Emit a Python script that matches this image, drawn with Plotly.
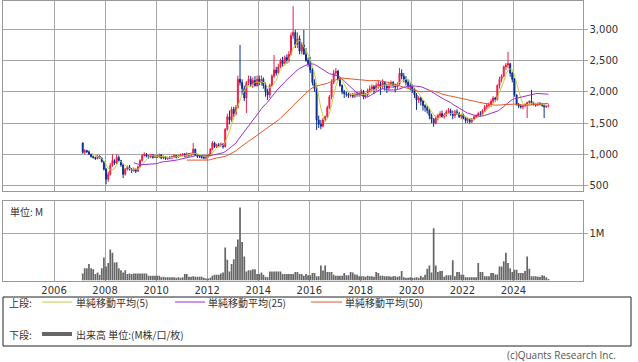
import plotly.graph_objects as go
import pandas as pd

W, H = 638, 362

# ---------------- data (monthly, Feb 2007 - May 2025) ----------------
start_month = "2007-02-01"
n_months = 220

open_ = [
    1180, 1030, 1060, 1040, 1000, 960, 950, 930, 970, 940, 880,               # 2007 Feb-Dec
    760, 600, 680, 820, 900, 860, 950, 900, 830, 680, 760, 800,               # 2008
    760, 740, 760, 730, 800, 900, 980, 1000, 970, 960, 990, 950,              # 2009
    970, 960, 990, 940, 960, 930, 950, 940, 960, 980, 950, 970,               # 2010
    990, 1000, 970, 1010, 990, 1000, 1080, 990, 970, 960, 950, 940,           # 2011
    960, 980, 1080, 1180, 1120, 1150, 1140, 1160, 1120, 1400, 1600, 1550,     # 2012
    1720, 1650, 1750, 2200, 2150, 2050, 1900, 2150, 2200, 2120, 2180, 2100,   # 2013
    2200, 2150, 2200, 2100, 2000, 1950, 2100, 2250, 2350, 2300, 2400, 2500,   # 2014
    2450, 2550, 2500, 2600, 2900, 2950, 2750, 2850, 2650, 2750, 2600, 2500,   # 2015
    2450, 2350, 2150, 2050, 1550, 1480, 1450, 1550, 1600, 1750, 1920, 2150,   # 2016
    2300, 2330, 2200, 2100, 2000, 1970, 1960, 1940, 1950, 1930, 1960, 1950,   # 2017
    1970, 2000, 1920, 1950, 2020, 2050, 2080, 2040, 2100, 2120, 2080, 2150,   # 2018
    2100, 2060, 2110, 2150, 2100, 2080, 2120, 2300, 2250, 2200, 2150, 2100,   # 2019
    2080, 2020, 1950, 1870, 1900, 1850, 1780, 1750, 1700, 1620, 1560, 1500,   # 2020
    1580, 1620, 1650, 1600, 1630, 1680, 1700, 1650, 1620, 1680, 1650, 1600,   # 2021
    1630, 1580, 1540, 1560, 1520, 1560, 1600, 1620, 1650, 1640, 1700, 1760,   # 2022
    1780, 1800, 1850, 1900, 1880, 2100, 2200, 2250, 2400, 2430, 2450, 2300,   # 2023
    2200, 1950, 1800, 1770, 1760, 1780, 1800, 1830, 1850, 1820, 1800, 1790,   # 2024
    1820, 1800, 1780, 1760, 1770,                                             # 2025
]
high = [
    1190, 1080, 1070, 1060, 1010, 980, 960, 990, 980, 950, 890,
    780, 720, 860, 1000, 920, 1000, 980, 910, 850, 780, 820, 830,
    780, 790, 770, 820, 920, 1000, 1030, 1020, 990, 1010, 1000, 990,
    990, 1010, 1000, 980, 970, 960, 970, 980, 1000, 990, 990, 1010,
    1020, 1020, 1030, 1020, 1030, 1180, 1090, 1000, 990, 980, 970, 980,
    1000, 1100, 1210, 1200, 1170, 1180, 1190, 1180, 1420, 1650, 1700, 1760,
    1760, 1790, 2260, 2750, 2200, 2100, 2170, 2260, 2250, 2230, 2250, 2260,
    2260, 2260, 2230, 2150, 2050, 2130, 2280, 2590, 2400, 2450, 2530, 2560,
    2580, 2600, 2650, 2950, 3370, 2990, 2950, 2900, 2800, 2990, 2700, 2550,
    2560, 2380, 2200, 2080, 1620, 1550, 1580, 1620, 1780, 1950, 2200, 2350,
    2380, 2350, 2230, 2120, 2030, 2000, 1990, 1980, 1980, 1990, 2000, 2000,
    2040, 2030, 1980, 2050, 2100, 2120, 2110, 2150, 2190, 2170, 2200, 2170,
    2130, 2140, 2180, 2170, 2130, 2150, 2380, 2360, 2300, 2250, 2200, 2150,
    2120, 2060, 1980, 1930, 1920, 1870, 1800, 1780, 1730, 1650, 1580, 1620,
    1650, 1690, 1700, 1660, 1710, 1740, 1730, 1700, 1710, 1720, 1680, 1650,
    1650, 1600, 1580, 1580, 1580, 1620, 1640, 1680, 1690, 1720, 1790, 1820,
    1830, 1880, 1930, 1920, 2120, 2240, 2280, 2420, 2460, 2640, 2460, 2320,
    2220, 1960, 1820, 1800, 1790, 1810, 1840, 1860, 2030, 1840, 1820, 1830,
    1830, 1820, 1800, 1790, 1800,
]
low = [
    1010, 1000, 1020, 990, 950, 930, 910, 920, 930, 870, 740,
    520, 560, 660, 800, 830, 840, 880, 800, 620, 660, 740, 740,
    700, 720, 700, 720, 790, 880, 960, 950, 930, 940, 930, 940,
    940, 940, 920, 920, 910, 910, 920, 920, 940, 930, 940, 960,
    970, 950, 960, 960, 970, 990, 970, 940, 940, 930, 920, 920,
    940, 970, 1060, 1100, 1100, 1110, 1120, 1090, 1110, 1380, 1480, 1520,
    1600, 1620, 1730, 2100, 1950, 1850, 1660, 2100, 2080, 2060, 2080, 2080,
    2100, 2100, 2050, 1920, 1870, 1900, 2080, 2220, 2260, 2280, 2380, 2400,
    2420, 2450, 2470, 2580, 2850, 2700, 2700, 2600, 2600, 2600, 2480, 2400,
    2300, 2100, 2000, 1390, 1420, 1400, 1430, 1520, 1580, 1720, 1880, 2120,
    2250, 2180, 2080, 1960, 1900, 1920, 1900, 1910, 1900, 1900, 1920, 1920,
    1940, 1880, 1890, 1920, 1980, 2000, 1960, 2000, 2050, 1950, 2040, 2020,
    1980, 2020, 2060, 2060, 1990, 2040, 2100, 2200, 2150, 2100, 2050, 2020,
    1980, 1900, 1710, 1820, 1780, 1700, 1680, 1650, 1560, 1500, 1440, 1480,
    1540, 1590, 1580, 1570, 1600, 1650, 1620, 1560, 1580, 1630, 1580, 1560,
    1560, 1500, 1500, 1490, 1500, 1540, 1580, 1600, 1600, 1620, 1680, 1720,
    1750, 1760, 1820, 1840, 1860, 2050, 2150, 2230, 2350, 2380, 2240, 2150,
    1920, 1780, 1740, 1730, 1720, 1750, 1580, 1800, 1790, 1780, 1760, 1770,
    1780, 1760, 1580, 1740, 1750,
]
close = [
    1030, 1060, 1040, 1000, 960, 950, 930, 970, 940, 880, 760,
    600, 680, 820, 900, 860, 950, 900, 830, 680, 760, 800, 760,
    740, 760, 730, 800, 900, 980, 1000, 970, 960, 990, 950, 970,
    960, 990, 940, 960, 930, 950, 940, 960, 980, 950, 970, 990,
    1000, 970, 1010, 990, 1000, 1080, 990, 970, 960, 950, 940, 960,
    980, 1080, 1180, 1120, 1150, 1140, 1160, 1120, 1400, 1600, 1550, 1720,
    1650, 1750, 2200, 2150, 2050, 1900, 2150, 2200, 2120, 2180, 2100, 2200,
    2150, 2200, 2100, 2000, 1950, 2100, 2250, 2350, 2300, 2400, 2500, 2450,
    2550, 2500, 2600, 2900, 2950, 2750, 2850, 2650, 2750, 2600, 2500, 2450,
    2350, 2150, 2050, 1550, 1480, 1450, 1550, 1600, 1750, 1920, 2150, 2300,
    2330, 2200, 2100, 2000, 1970, 1960, 1940, 1950, 1930, 1960, 1950, 1970,
    2000, 1920, 1950, 2020, 2050, 2080, 2040, 2100, 2120, 2080, 2150, 2100,
    2060, 2110, 2150, 2100, 2080, 2120, 2300, 2250, 2200, 2150, 2100, 2080,
    2020, 1950, 1870, 1900, 1850, 1780, 1750, 1700, 1620, 1560, 1500, 1580,
    1620, 1650, 1600, 1630, 1680, 1700, 1650, 1620, 1680, 1650, 1600, 1630,
    1580, 1540, 1560, 1520, 1560, 1600, 1620, 1650, 1640, 1700, 1760, 1780,
    1800, 1850, 1900, 1880, 2100, 2200, 2250, 2400, 2430, 2450, 2300, 2200,
    1950, 1800, 1770, 1760, 1780, 1800, 1830, 1850, 1820, 1800, 1790, 1820,
    1800, 1780, 1760, 1770, 1780,
]
volume_m = [
    0.15, 0.26, 0.26, 0.35, 0.26, 0.24, 0.14, 0.17, 0.12, 0.26, 0.49,
    0.30, 0.37, 0.66, 0.59, 0.38, 0.39, 0.26, 0.22, 0.17, 0.22, 0.14, 0.15,
    0.14, 0.15, 0.15, 0.15, 0.15, 0.15, 0.15, 0.15, 0.10, 0.10, 0.10, 0.10,
    0.10, 0.10, 0.07, 0.08, 0.07, 0.07, 0.07, 0.07, 0.07, 0.06, 0.07, 0.06,
    0.07, 0.14, 0.14, 0.08, 0.08, 0.09, 0.08, 0.08, 0.08, 0.08, 0.06, 0.04,
    0.04, 0.06, 0.10, 0.12, 0.12, 0.12, 0.15, 0.17, 0.70, 0.44, 0.19, 0.35,
    0.45, 0.72, 0.87, 1.55, 0.82, 0.51, 0.19, 0.22, 0.22, 0.24, 0.24, 0.14,
    0.14, 0.17, 0.12, 0.08, 0.07, 0.19, 0.19, 0.19, 0.19, 0.19, 0.19, 0.14,
    0.14, 0.14, 0.14, 0.14, 0.14, 0.18, 0.18, 0.14, 0.14, 0.10, 0.14, 0.11,
    0.11, 0.16, 0.16, 0.09, 0.09, 0.32, 0.21, 0.32, 0.18, 0.18, 0.18, 0.12,
    0.10, 0.10, 0.10, 0.10, 0.16, 0.11, 0.11, 0.18, 0.17, 0.13, 0.12, 0.09,
    0.09, 0.09, 0.08, 0.10, 0.09, 0.09, 0.08, 0.18, 0.16, 0.10, 0.10, 0.09,
    0.09, 0.09, 0.08, 0.09, 0.09, 0.08, 0.09, 0.20, 0.07, 0.06, 0.06, 0.07,
    0.06, 0.06, 0.07, 0.06, 0.10, 0.07, 0.12, 0.25, 0.32, 0.17, 1.11, 0.32,
    0.18, 0.20, 0.20, 0.08, 0.11, 0.11, 0.11, 0.43, 0.09, 0.18, 0.18, 0.12,
    0.12, 0.07, 0.07, 0.07, 0.07, 0.07, 0.07, 0.37, 0.18, 0.18, 0.09, 0.09,
    0.09, 0.16, 0.16, 0.13, 0.13, 0.30, 0.30, 0.41, 0.59, 0.37, 0.26, 0.18,
    0.23, 0.23, 0.16, 0.16, 0.16, 0.20, 0.51, 0.25, 0.09, 0.09, 0.09, 0.08,
    0.08, 0.11, 0.10, 0.07, 0.03,
]

price_ticks = [500, 1000, 1500, 2000, 2500, 3000]
year_ticks = [str(y) for y in range(2006, 2025, 2)]
ma_periods = [5, 25, 50]
ma_labels = ["単純移動平均(5)", "単純移動平均(25)", "単純移動平均(50)"]

# ---------------- styling ----------------
UP, DOWN = "#ea1d48", "#0c2e8e"
MA_COLORS = ["#c3cf3a", "#9b2fd0", "#e1582a"]
VOL_COLOR = "#666666"
GRID = "#a6a6a6"
BORDER = "#999999"
FONT = "DejaVu Sans"
JFONT = "Noto Sans CJK JP"

dates = pd.date_range(start_month, periods=n_months, freq="MS") + pd.Timedelta(days=14)
closes = pd.Series(close)

def px_x(x):
    return x / W

def px_y(y):
    return 1 - y / H

fig = go.Figure()
fig.add_trace(go.Candlestick(
    x=dates, open=open_, high=high, low=low, close=close,
    increasing=dict(line=dict(color=UP, width=1), fillcolor=UP),
    decreasing=dict(line=dict(color=DOWN, width=1), fillcolor=DOWN),
    whiskerwidth=0, showlegend=False, hoverinfo="skip",
    xaxis="x", yaxis="y",
))
for p, c in zip(ma_periods, MA_COLORS):
    fig.add_trace(go.Scatter(
        x=dates, y=closes.rolling(p).mean(), mode="lines",
        line=dict(color=c, width=1), showlegend=False, hoverinfo="skip",
        xaxis="x", yaxis="y",
    ))
fig.add_trace(go.Bar(
    x=dates, y=volume_m, marker=dict(color=VOL_COLOR, line=dict(width=0)),
    showlegend=False, hoverinfo="skip", xaxis="x2", yaxis="y2",
))

xr = ["2004-01-01", "2026-09-15"]
xtv = [f"{y}-01-01" for y in year_ticks]
common_x = dict(type="date", range=xr, tickvals=xtv, showgrid=True, gridcolor=GRID,
                gridwidth=1, showline=True, linecolor=BORDER, mirror=True,
                zeroline=False, automargin=False, fixedrange=True)
fig.update_layout(
    width=W, height=H, template="none",
    margin=dict(l=0, r=0, t=0, b=0),
    paper_bgcolor="white", plot_bgcolor="white",
    bargap=0.12,
    xaxis=dict(**common_x, domain=[px_x(3), px_x(582.5)], anchor="y",
               showticklabels=False, ticks="", rangeslider=dict(visible=False)),
    yaxis=dict(domain=[px_y(190.5), px_y(0.5)], range=[420, 3461], side="right",
               tickvals=price_ticks, tickformat=",d", ticks="outside", ticklen=4,
               tickcolor=GRID, showgrid=True, gridcolor=GRID, showline=True,
               linecolor=BORDER, mirror=True, zeroline=False, automargin=False,
               tickfont=dict(family=FONT, size=10, color="#333333")),
    xaxis2=dict(**common_x, domain=[px_x(3), px_x(582.5)], anchor="y2",
                ticktext=year_ticks, ticks="", showticklabels=True,
                tickfont=dict(family=FONT, size=10, color="#333333")),
    yaxis2=dict(domain=[px_y(280.5), px_y(201)], range=[0, 1.69], side="right",
                tickvals=[1], ticktext=["1M"], ticks="outside", ticklen=4,
                tickcolor=GRID, showgrid=True, gridcolor=GRID, showline=True,
                linecolor=BORDER, mirror=True, zeroline=False, automargin=False,
                tickfont=dict(family=FONT, size=10, color="#333333")),
)

annotations = [
    dict(x=px_x(8), y=px_y(211), text="単位: M", xanchor="left", yanchor="middle",
         font=dict(family=JFONT, size=10, color="#333333")),
    dict(x=px_x(7), y=px_y(302), text="上段:", xanchor="left", yanchor="middle",
         font=dict(family=JFONT, size=10, color="#333333")),
    dict(x=px_x(7), y=px_y(334), text="下段:", xanchor="left", yanchor="middle",
         font=dict(family=JFONT, size=10, color="#333333")),
    dict(x=px_x(74), y=px_y(334), text="出来高 単位:(M株/口/枚)", xanchor="left",
         yanchor="middle", font=dict(family=JFONT, size=10, color="#333333")),
    dict(x=px_x(618), y=px_y(354.5), text="(c)Quants Research Inc.", xanchor="right",
         yanchor="middle", font=dict(family="Open Sans", size=10, color="#555555")),
]
shapes = [
    dict(type="rect", xref="paper", yref="paper", x0=px_x(3), x1=px_x(631),
         y0=px_y(346), y1=px_y(297), line=dict(color="#222222", width=1)),
    dict(type="line", xref="paper", yref="paper", x0=px_x(42), x1=px_x(72),
         y0=px_y(334), y1=px_y(334), line=dict(color=VOL_COLOR, width=4)),
]
sw_x = [(42, 72, 74), (175, 205, 206), (311, 342, 343)]
for (a, b, t), c, lab in zip(sw_x, MA_COLORS, ma_labels):
    shapes.append(dict(type="line", xref="paper", yref="paper", x0=px_x(a), x1=px_x(b),
                       y0=px_y(302), y1=px_y(302), line=dict(color=c, width=1)))
    annotations.append(dict(x=px_x(t), y=px_y(302), text=lab, xanchor="left",
                            yanchor="middle", font=dict(family=JFONT, size=10, color="#333333")))
for a in annotations:
    a.update(xref="paper", yref="paper", showarrow=False)
fig.update_layout(annotations=annotations, shapes=shapes)

fig.write_html(
    "out.html",
    config={"displayModeBar": False, "staticPlot": True},
    post_script="document.body.style.margin='0';document.body.style.padding='0';",
)
